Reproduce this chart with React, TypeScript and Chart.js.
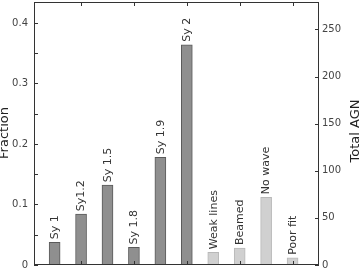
import React, { useEffect, useRef } from "react";
import { Chart, registerables } from "chart.js";

Chart.register(...registerables);

const categories = ["Sy 1", "Sy1.2", "Sy 1.5", "Sy 1.8", "Sy 1.9", "Sy 2", "Weak lines", "Beamed", "No wave", "Poor fit"];
const fractions = [0.0375, 0.084, 0.132, 0.029, 0.178, 0.364, 0.021, 0.028, 0.112, 0.012];
const isMainClass = [true, true, true, true, true, true, false, false, false, false];
const leftTicks = [0, 0.1, 0.2, 0.3, 0.4];
const rightTicks = [0, 50, 100, 150, 200, 250];
const totalAgn = 642;
const fractionMax = 0.4347;

const FONT = "'DejaVu Sans', sans-serif";

export default function App() {
  const ref = useRef<HTMLCanvasElement | null>(null);

  useEffect(() => {
    document.body.style.margin = "0";
    const canvas = ref.current;
    if (!canvas) return;

    const decorPlugin = {
      id: "decor",
      afterDatasetsDraw(chart: any) {
        const ctx = chart.ctx;
        const { left, right, top, bottom } = chart.chartArea;
        const x = chart.scales.x;
        const y = chart.scales.y;
        const y1 = chart.scales.y1;
        ctx.save();
        // bar labels
        ctx.fillStyle = "#333";
        ctx.font = `11px ${FONT}`;
        ctx.textAlign = "left";
        ctx.textBaseline = "middle";
        categories.forEach((c, i) => {
          const px = x.getPixelForValue(i);
          const py = y.getPixelForValue(fractions[i]);
          ctx.save();
          ctx.translate(px + 0.5, py - 3);
          ctx.rotate(-Math.PI / 2);
          ctx.fillText(c, 0, 0);
          ctx.restore();
        });
        // frame
        ctx.strokeStyle = "#333";
        ctx.lineWidth = 1;
        ctx.strokeRect(left + 0.5, top + 0.5, right - left - 1, bottom - top - 1);
        // ticks
        ctx.beginPath();
        for (let v = 0; v <= fractionMax; v += 0.05) {
          const py = Math.round(y.getPixelForValue(v)) + 0.5;
          ctx.moveTo(left, py);
          ctx.lineTo(left + 4, py);
        }
        rightTicks.forEach((v) => {
          const py = Math.round(y1.getPixelForValue(v)) + 0.5;
          ctx.moveTo(right, py);
          ctx.lineTo(right - 4, py);
        });
        [1, 3, 5, 7, 9].forEach((i) => {
          const px = Math.round(x.getPixelForValue(i)) + 0.5;
          ctx.moveTo(px, top);
          ctx.lineTo(px, top + 4);
          ctx.moveTo(px, bottom);
          ctx.lineTo(px, bottom - 4);
        });
        ctx.stroke();
        // axis titles
        ctx.fillStyle = "#222";
        ctx.font = `13px ${FONT}`;
        ctx.textAlign = "center";
        ctx.textBaseline = "middle";
        ctx.save();
        ctx.translate(5, 133);
        ctx.rotate(-Math.PI / 2);
        ctx.fillText("Fraction", 0, 0);
        ctx.restore();
        ctx.save();
        ctx.translate(356, 131);
        ctx.rotate(-Math.PI / 2);
        ctx.fillText("Total AGN", 0, 0);
        ctx.restore();
        ctx.restore();
      },
    };

    const fitY = (w: number) => (s: any) => {
      s.width = w;
      s.paddingTop = 0;
      s.paddingBottom = 0;
    };

    const chart = new Chart(canvas, {
      type: "bar",
      data: {
        datasets: [
          {
            data: fractions.map((v, i) => ({ x: i, y: v })),
            backgroundColor: isMainClass.map((m) => (m ? "#8f8f8f" : "#d0d0d0")),
            borderColor: isMainClass.map((m) => (m ? "#5a5a5a" : "#b8b8b8")),
            borderWidth: 1,
            barThickness: 11,
            yAxisID: "y",
          },
        ],
      },
      options: {
        animation: false,
        responsive: false,
        devicePixelRatio: 1,
        layout: { padding: { top: 2, bottom: 4, left: 0, right: 0 } },
        plugins: { legend: { display: false }, tooltip: { enabled: false } },
        scales: {
          x: {
            type: "linear",
            min: -0.78,
            max: 10.0,
            display: false,
            offset: false,
          },
          y: {
            position: "left",
            min: 0,
            max: fractionMax,
            grid: { display: false, drawTicks: false },
            border: { display: false },
            afterBuildTicks: (s: any) => {
              s.ticks = leftTicks.map((v) => ({ value: v }));
            },
            afterFit: fitY(34),
            ticks: {
              padding: 6,
              color: "#444",
              font: { family: FONT, size: 10 },
              callback: (v: any) => (v === 0 ? "0" : Number(v).toFixed(1)),
            },
          },
          y1: {
            position: "right",
            min: 0,
            max: fractionMax * totalAgn,
            grid: { display: false, drawTicks: false },
            border: { display: false },
            afterBuildTicks: (s: any) => {
              s.ticks = rightTicks.map((v) => ({ value: v }));
            },
            afterFit: fitY(43),
            ticks: {
              padding: 3,
              color: "#444",
              font: { family: FONT, size: 10 },
              callback: (v: any) => String(v),
            },
          },
        },
      },
      plugins: [decorPlugin],
    });

    return () => chart.destroy();
  }, []);

  return (
    <div style={{ width: 362, height: 269 }}>
      <canvas ref={ref} width={362} height={269} style={{ display: "block" }} />
    </div>
  );
}
